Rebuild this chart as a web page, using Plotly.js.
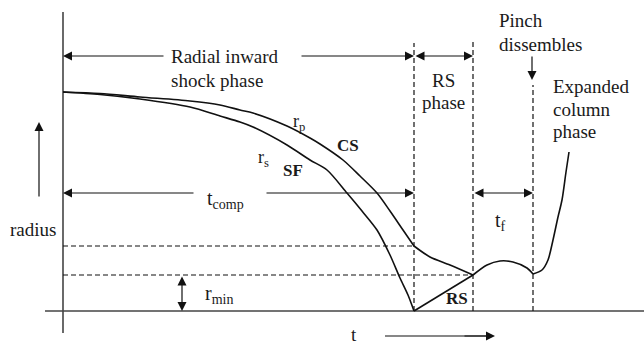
<!DOCTYPE html>
<html><head><meta charset="utf-8">
<script src="https://cdn.plot.ly/plotly-3.0.1.min.js"></script>
<style>html,body{margin:0;padding:0;background:#fff}#c{width:644px;height:341px}</style>
</head><body><div id="c"></div>
<script>
// Schematic units: t (time) horizontal, r (radius) vertical
var tComp = 35.1, tRS = 41.0, tPinch = 47.0;
var rStart = 21.9, rLevel1 = 6.5, rMin = 3.6;

// r_p (piston / current sheet) — compression phase
var rpT = [0, 3.7, 7.7, 12.7, 15.7, 17.7, 19.0, 22.4, 24.7, 25.7, 28.0, 29.7, 31.4, 32.7, 34.0, 35.1];
var rpR = [21.9, 21.75, 21.4, 21.0, 20.6, 20.1, 19.8, 18.5, 17.3, 16.7, 15.1, 13.5, 11.8, 10.0, 8.1, 6.5];
// r_p during RS phase
var rp2T = [35.1, 36.7, 38.7, 41.0];
var rp2R = [6.5, 5.4, 4.6, 3.6];
// pinch phase
var rp3T = [41.0, 42.4, 43.7, 45.0, 46.4, 47.0];
var rp3R = [3.6, 4.6, 5.0, 4.9, 4.3, 3.7];
// expanded column phase
var rp4T = [47.0, 47.9, 48.5, 49.0, 49.5, 49.9, 50.3, 50.6];
var rp4R = [3.7, 4.1, 5.1, 7.1, 9.4, 11.1, 13.9, 15.9];
// r_s (shock front)
var rsT = [0, 3.7, 7.7, 12.7, 15.7, 17.7, 19.0, 22.4, 24.7, 26.4, 28.4, 29.9, 31.4, 32.7, 33.7, 34.5, 35.1];
var rsR = [21.9, 21.65, 21.2, 20.4, 19.5, 18.9, 18.4, 16.6, 15.1, 14.1, 11.8, 10.0, 8.1, 5.6, 3.3, 1.6, 0];
// reflected shock
var rflT = [35.1, 41.0];
var rflR = [0, 3.6];

// frame axes
var axVT = [0, 0], axVR = [-2.2, 29.9];
var axHT = [-1.8, 58.1], axHR = [0, 0];
// dashed guides (top ends of the vertical phase lines)
var vTop = [26.8, 27.1, 22.6];
// time arrow under the axis
var tArrowT = [32.2, 43.0], tArrowR = [-2.5, -2.5];

var black = '#111';
var traces = [];
function ln(x, y, opt) {
  traces.push(Object.assign({x: x, y: y, type: 'scatter', mode: 'lines',
    hoverinfo: 'skip', showlegend: false, cliponaxis: false,
    line: {color: black, width: 1.6, shape: 'spline', smoothing: 0.8}}, opt || {}));
}
ln(axVT, axVR, {line: {color: '#444', width: 1.6}});
ln(axHT, axHR, {line: {color: '#444', width: 1.6}});
var dash = {color: black, width: 1.2, dash: '5px,3px'};
ln([0, tComp], [rLevel1, rLevel1], {line: dash});
ln([0, tRS], [rMin, rMin], {line: dash});
ln([tComp, tComp], [0, vTop[0]], {line: dash});
ln([tRS, tRS], [0, vTop[1]], {line: dash});
ln([tPinch, tPinch], [0, vTop[2]], {line: dash});
ln(rpT, rpR);
ln(rp2T, rp2R);
ln(rp3T, rp3R);
ln(rp4T, rp4R);
ln(rsT, rsR);
ln(rflT, rflR, {line: {color: black, width: 1.6}});
ln(tArrowT, tArrowR, {line: {color: black, width: 1.2}});

var arrowRow1 = 25.5, arrowRow2 = 11.8;
function arr(x, y, ax, ay, both) {
  return {x: x, y: y, ax: ax, ay: ay, xref: 'x', yref: 'y', axref: 'x', ayref: 'y',
    text: '', showarrow: true, arrowhead: 2, startarrowhead: 2, arrowsize: 1.5, startarrowsize: 1.5,
    arrowwidth: 1.2, arrowcolor: black, arrowside: both ? 'end+start' : 'end', standoff: 0, startstandoff: 0};
}
var font = {family: 'Liberation Serif, Times New Roman, serif', size: 19, color: '#1a1a1a'};
function txt(x, y, s, anchor, size, bold) {
  var f = Object.assign({}, font, {size: size || 19});
  if (bold) f.weight = 'bold';
  return {x: x, y: y, xref: 'x', yref: 'y', text: s, showarrow: false,
    xanchor: anchor || 'center', yanchor: 'middle', font: f};
}
var ann = [
  arr(0, arrowRow1, 10.2, arrowRow1),
  arr(tComp, arrowRow1, 23.7, arrowRow1),
  arr(tRS, arrowRow1, tComp, arrowRow1, true),
  arr(0, arrowRow2, 13.2, arrowRow2),
  arr(tComp, arrowRow2, 20.2, arrowRow2),
  arr(tPinch, arrowRow2, tRS, arrowRow2, true),
  arr(11.9, 0, 11.9, rMin, true),
  arr(-2.4, 18.9, -2.4, 11.3),
  arr(46.9, 23.1, 46.9, 25.6),
  arr(43.2, -2.5, 40.0, -2.5),
  txt(10.6, 25.5, 'Radial inward', 'left'),
  txt(10.6, 23.1, 'shock phase', 'left'),
  txt(38.05, 23.1, 'RS'),
  txt(38.05, 20.9, 'phase'),
  txt(43.4, 29.1, 'Pinch', 'left'),
  txt(43.4, 26.7, 'dissembles', 'left'),
  txt(48.8, 22.5, 'Expanded', 'left'),
  txt(48.8, 20.2, 'column', 'left'),
  txt(48.8, 18.0, 'phase', 'left'),
  txt(23.6, 18.9, 'r<sub>p</sub>', 'center', 18),
  txt(28.5, 16.6, 'CS', 'center', 17, true),
  txt(20.0, 15.3, 'r<sub>s</sub>', 'center', 18),
  txt(23.0, 14.1, 'SF', 'center', 17, true),
  txt(16.2, 11.2, 't<sub>comp</sub>', 'center', 20),
  txt(43.7, 9.0, 't<sub>f</sub>', 'center', 20),
  txt(-3.0, 8.2, 'radius', 'center', 19),
  txt(15.6, 1.7, 'r<sub>min</sub>', 'center', 20),
  txt(39.4, 1.3, 'RS', 'center', 17, true),
  txt(29.1, -2.3, 't', 'center', 19)
];

var layout = {
  width: 644, height: 341, margin: {l: 0, r: 0, t: 0, b: 0},
  paper_bgcolor: '#fff', plot_bgcolor: '#fff',
  xaxis: {range: [-6.3, 58.1], visible: false, fixedrange: true},
  yaxis: {range: [-3.0, 31.1], visible: false, fixedrange: true},
  annotations: ann, showlegend: false
};
Plotly.newPlot('c', traces, layout, {staticPlot: true});
</script></body></html>
